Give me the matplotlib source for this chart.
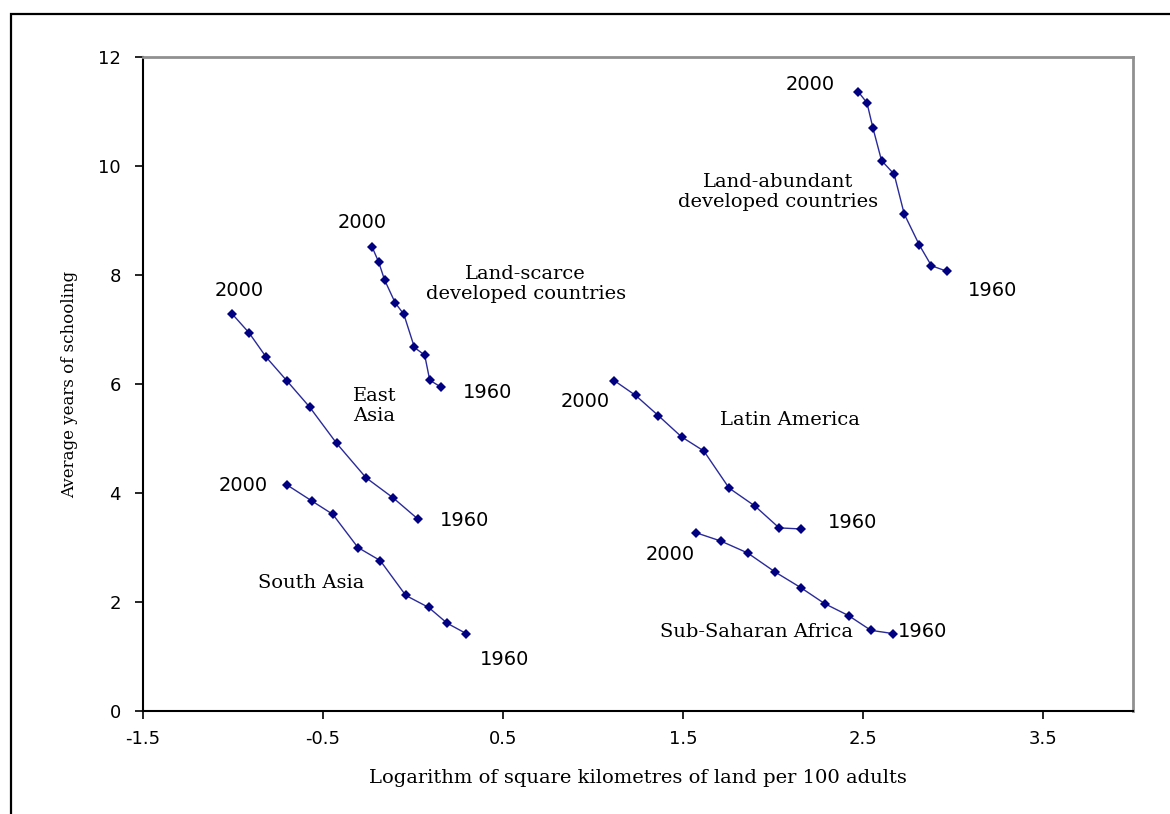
import numpy as np
import matplotlib.pyplot as plt
from matplotlib.patches import Rectangle

# data, 2000 first, 1960 last
east_x = [-1.003, -0.911, -0.815, -0.701, -0.575, -0.424, -0.261, -0.110, 0.028]
east_y = [7.28, 6.94, 6.49, 6.06, 5.58, 4.91, 4.28, 3.91, 3.52]

scarce_x = [-0.228, -0.191, -0.158, -0.099, -0.051, 0.008, 0.065, 0.093, 0.157]
scarce_y = [8.52, 8.24, 7.91, 7.49, 7.28, 6.67, 6.53, 6.07, 5.94]

south_x = [-0.701, -0.560, -0.446, -0.306, -0.182, -0.040, 0.087, 0.190, 0.296]
south_y = [4.15, 3.85, 3.61, 3.00, 2.76, 2.12, 1.90, 1.61, 1.42]

latin_x = [1.119, 1.237, 1.363, 1.492, 1.616, 1.756, 1.900, 2.034, 2.156]
latin_y = [6.06, 5.79, 5.42, 5.03, 4.77, 4.09, 3.76, 3.36, 3.34]

ssa_x = [1.573, 1.709, 1.859, 2.012, 2.156, 2.287, 2.420, 2.544, 2.668]
ssa_y = [3.27, 3.12, 2.90, 2.55, 2.26, 1.97, 1.75, 1.48, 1.42]

abund_x = [2.474, 2.522, 2.555, 2.603, 2.673, 2.729, 2.813, 2.880, 2.965]
abund_y = [11.36, 11.16, 10.70, 10.10, 9.85, 9.12, 8.55, 8.17, 8.07]

# (text, x, y) for the group names and the year marks
group_labels = [
    ('Land-abundant\ndeveloped countries', 2.027, 9.52),
    ('Land-scarce\ndeveloped countries', 0.626, 7.83),
    ('East\nAsia', -0.215, 5.60),
    ('South Asia', -0.564, 2.35),
    ('Latin America', 2.094, 5.34),
    ('Sub-Saharan Africa', 1.911, 1.45),
]
year_labels = [
    ('2000', 2.204, 11.49), ('1960', 3.218, 7.71),
    ('2000', -0.282, 8.97), ('1960', 0.416, 5.85),
    ('2000', -0.968, 7.72), ('1960', 0.288, 3.50),
    ('2000', -0.946, 4.13), ('1960', 0.510, 0.95),
    ('2000', 0.958, 5.67), ('1960', 2.442, 3.45),
    ('2000', 1.429, 2.88), ('1960', 2.830, 1.45),
]

xticks = [-1.5, -0.5, 0.5, 1.5, 2.5, 3.5]
yticks = [0, 2, 4, 6, 8, 10, 12]

serif = 'DejaVu Serif'
sans = 'DejaVu Sans'
navy = '#000080'

fig = plt.figure(figsize=(11.7, 8.14), dpi=100)
# outer frame of the chart
fig.patches.append(Rectangle((11/1170, -0.1), 1.2, (814-14)/814 + 0.1,
                             transform=fig.transFigure, fill=False,
                             edgecolor='black', linewidth=1.6))
ax = fig.add_axes([143/1170, 103/814, 990/1170, 654/814])

for xs, ys in [(east_x, east_y), (scarce_x, scarce_y), (south_x, south_y),
               (latin_x, latin_y), (ssa_x, ssa_y), (abund_x, abund_y)]:
    ax.plot(xs, ys, '-', color='#2a2a9a', linewidth=1.0)
    ax.plot(xs, ys, 'D', color=navy, markersize=5.6, markeredgewidth=0)

for txt, x, y in group_labels:
    ax.text(x, y, txt, family=serif, fontsize=14, ha='center', va='center',
            linespacing=1.15)
for txt, x, y in year_labels:
    ax.text(x, y, txt, family=sans, fontsize=14, ha='center', va='center')

ax.set_xlim(-1.5, 4.0)
ax.set_ylim(0, 12)
ax.set_xticks(xticks)
ax.set_xticklabels([str(t) for t in xticks], family=sans, fontsize=13)
ax.set_yticks(yticks)
ax.set_yticklabels([str(t) for t in yticks], family=sans, fontsize=13)
ax.tick_params(direction='out', length=6, width=1.2)
ax.tick_params(axis='x', pad=8)
ax.tick_params(axis='y', pad=10)

for s in ['top', 'right']:
    ax.spines[s].set_color('#909090')
    ax.spines[s].set_linewidth(2)
for s in ['left', 'bottom']:
    ax.spines[s].set_color('black')
    ax.spines[s].set_linewidth(1.5)

ax.set_xlabel('Logarithm of square kilometres of land per 100 adults',
              family=serif, fontsize=14, labelpad=15)
ax.set_ylabel('Average years of schooling', family=serif, fontsize=12,
              labelpad=14)

fig.savefig('out.png', dpi=100)
